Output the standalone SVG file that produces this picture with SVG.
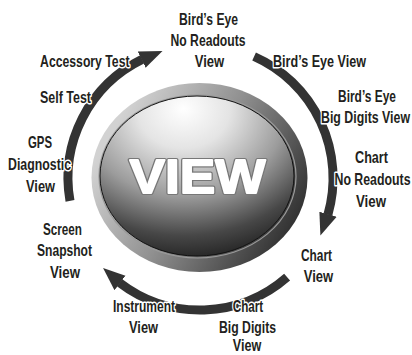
<svg xmlns="http://www.w3.org/2000/svg" width="412" height="355" viewBox="0 0 412 355">
<style>
.lbl{font-family:"Liberation Sans","Arial",sans-serif;font-weight:bold;font-size:16.3px;fill:#231f20;stroke:#fff;stroke-width:3;stroke-linejoin:round;paint-order:stroke;text-anchor:middle}
.arc{fill:none;stroke:#333;stroke-width:9;stroke-linecap:butt;marker-end:url(#ah)}
.big{font-family:"Liberation Sans","Arial",sans-serif;font-weight:900;font-size:49px;text-anchor:middle;stroke-linejoin:round}
.bigo{fill:#777;stroke:#777;stroke-width:4.2}
.bigf{fill:#fff;stroke:#fff;stroke-width:1.8}
</style>
<defs>
<marker id="ah" markerUnits="userSpaceOnUse" markerWidth="24" markerHeight="22" viewBox="0 0 24 22" refX="0.5" refY="10" orient="auto">
<path d="M0,1 L22.5,11.5 L0,19 Z" fill="#333"/>
</marker>
<linearGradient id="ring" x1="0.05" y1="0.35" x2="0.95" y2="0.8">
<stop offset="0" stop-color="#d2d2d2"/>
<stop offset="0.45" stop-color="#909090"/>
<stop offset="1" stop-color="#2c2c2c"/>
</linearGradient>
<radialGradient id="face" cx="0.43" cy="0.12" r="0.95" fx="0.43" fy="0.08">
<stop offset="0" stop-color="#ffffff"/>
<stop offset="0.25" stop-color="#e4e4e4"/>
<stop offset="0.55" stop-color="#9c9c9c"/>
<stop offset="0.8" stop-color="#474747"/>
<stop offset="1" stop-color="#1a1a1a"/>
</radialGradient>
</defs>
<rect width="412" height="355" fill="#fff"/>

<g id="button">
<ellipse cx="199.5" cy="177.5" rx="108" ry="94.5" fill="url(#ring)"/>
<ellipse cx="197.5" cy="176.5" rx="98.5" ry="81.5" fill="none" stroke="#9a9a9a" stroke-width="1.2"/>
<ellipse cx="197" cy="176" rx="97" ry="80" fill="url(#face)" stroke="#111" stroke-width="1"/>
<text class="big bigo" x="197.5" y="192.5" textLength="136" lengthAdjust="spacingAndGlyphs">VIEW</text>
<text class="big bigf" x="197.5" y="192.5" textLength="136" lengthAdjust="spacingAndGlyphs">VIEW</text>
</g>

<g id="connectors">
<path class="arc" d="M70,200.9 A132,132 0 0 1 142.1,59.4"/>
<path class="arc" d="M254.1,56.5 A133,133 0 0 1 327.9,214.7"/>
<path class="arc" d="M287.1,277.2 A132,132 0 0 1 119.6,282.7"/>
</g>

<g id="birds-eye-no-readouts">
<text class="lbl" transform="translate(208.5,24.5) scale(0.75,1)" textLength="78.7" lengthAdjust="spacingAndGlyphs">Bird’s Eye</text>
<text class="lbl" transform="translate(208,45.5) scale(0.75,1)" textLength="100" lengthAdjust="spacingAndGlyphs">No Readouts</text>
<text class="lbl" transform="translate(209.5,66.5) scale(0.75,1)" textLength="39.3" lengthAdjust="spacingAndGlyphs">View</text>
</g>
<g id="birds-eye-view">
<text class="lbl" transform="translate(319.5,67) scale(0.75,1)" textLength="124" lengthAdjust="spacingAndGlyphs">Bird’s Eye View</text>
</g>
<g id="birds-eye-big-digits">
<text class="lbl" transform="translate(367,102) scale(0.75,1)" textLength="77.3" lengthAdjust="spacingAndGlyphs">Bird’s Eye</text>
<text class="lbl" transform="translate(365.5,123.3) scale(0.75,1)" textLength="118.7" lengthAdjust="spacingAndGlyphs">Big Digits View</text>
</g>
<g id="chart-no-readouts">
<text class="lbl" transform="translate(371.5,163.3) scale(0.75,1)" textLength="44" lengthAdjust="spacingAndGlyphs">Chart</text>
<text class="lbl" transform="translate(372.5,185) scale(0.75,1)" textLength="101.3" lengthAdjust="spacingAndGlyphs">No Readouts</text>
<text class="lbl" transform="translate(371,206.5) scale(0.75,1)" textLength="40" lengthAdjust="spacingAndGlyphs">View</text>
</g>
<g id="chart-view">
<text class="lbl" transform="translate(316.5,261) scale(0.75,1)" textLength="41.3" lengthAdjust="spacingAndGlyphs">Chart</text>
<text class="lbl" transform="translate(318.5,281.7) scale(0.75,1)" textLength="39.3" lengthAdjust="spacingAndGlyphs">View</text>
</g>
<g id="chart-big-digits">
<text class="lbl" transform="translate(248,311.8) scale(0.75,1)" textLength="40.7" lengthAdjust="spacingAndGlyphs">Chart</text>
<text class="lbl" transform="translate(247.5,332.5) scale(0.75,1)" textLength="76" lengthAdjust="spacingAndGlyphs">Big Digits</text>
<text class="lbl" transform="translate(247,351) scale(0.75,1)" textLength="38" lengthAdjust="spacingAndGlyphs">View</text>
</g>
<g id="instrument-view">
<text class="lbl" transform="translate(144,312.3) scale(0.75,1)" textLength="82.7" lengthAdjust="spacingAndGlyphs">Instrument</text>
<text class="lbl" transform="translate(143.5,333.3) scale(0.75,1)" textLength="38.7" lengthAdjust="spacingAndGlyphs">View</text>
</g>
<g id="screen-snapshot">
<text class="lbl" transform="translate(62.5,235) scale(0.75,1)" textLength="52" lengthAdjust="spacingAndGlyphs">Screen</text>
<text class="lbl" transform="translate(64.5,256.3) scale(0.75,1)" textLength="73.3" lengthAdjust="spacingAndGlyphs">Snapshot</text>
<text class="lbl" transform="translate(65,277.7) scale(0.75,1)" textLength="40" lengthAdjust="spacingAndGlyphs">View</text>
</g>
<g id="gps-diagnostic">
<text class="lbl" transform="translate(40,148.3) scale(0.75,1)" textLength="32" lengthAdjust="spacingAndGlyphs">GPS</text>
<text class="lbl" transform="translate(39.5,170) scale(0.75,1)" textLength="84" lengthAdjust="spacingAndGlyphs">Diagnostic</text>
<text class="lbl" transform="translate(40.5,191.7) scale(0.75,1)" textLength="38.7" lengthAdjust="spacingAndGlyphs">View</text>
</g>
<g id="self-test">
<text class="lbl" transform="translate(65.5,103) scale(0.75,1)" textLength="68" lengthAdjust="spacingAndGlyphs">Self Test</text>
</g>
<g id="accessory-test">
<text class="lbl" transform="translate(84.8,66.7) scale(0.75,1)" textLength="119.3" lengthAdjust="spacingAndGlyphs">Accessory Test</text>
</g>
</svg>
